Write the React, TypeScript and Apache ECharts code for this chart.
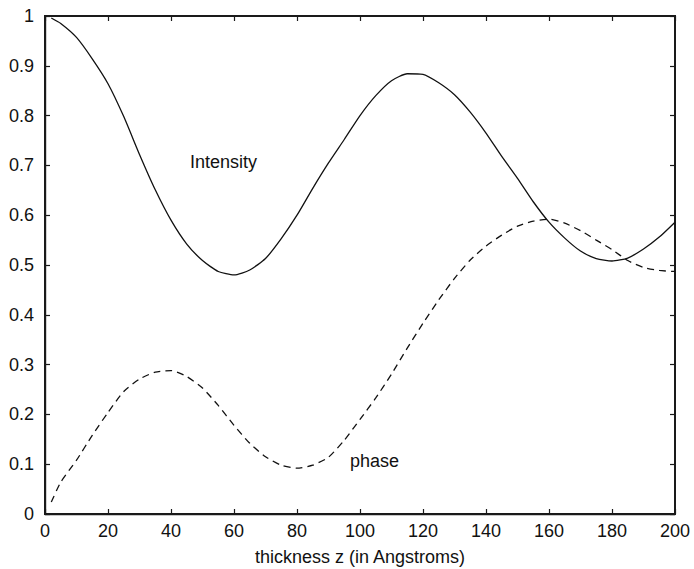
import React, { useEffect, useRef } from "react";
import * as echarts from "echarts";

const zValues = [2, 5, 10, 15, 20, 25, 30, 35, 40, 45, 50, 55, 60, 65, 70, 75, 80, 85, 90, 95, 100,
  105, 110, 115, 120, 125, 130, 135, 140, 145, 150, 155, 160, 165, 170, 175, 180, 185, 190, 195, 200];

const intensity = [0.996, 0.985, 0.957, 0.914, 0.864, 0.798, 0.722, 0.651, 0.590, 0.542, 0.509, 0.487,
  0.480, 0.490, 0.513, 0.553, 0.600, 0.654, 0.705, 0.752, 0.800, 0.840, 0.870, 0.884, 0.883, 0.866,
  0.842, 0.807, 0.765, 0.718, 0.674, 0.627, 0.586, 0.554, 0.528, 0.513, 0.508, 0.514, 0.532, 0.556, 0.586];

const phase = [0.024, 0.064, 0.108, 0.158, 0.204, 0.246, 0.271, 0.285, 0.288, 0.276, 0.253, 0.218,
  0.178, 0.142, 0.115, 0.098, 0.092, 0.098, 0.114, 0.148, 0.190, 0.233, 0.281, 0.333, 0.383, 0.430,
  0.473, 0.510, 0.538, 0.560, 0.578, 0.588, 0.592, 0.584, 0.569, 0.550, 0.531, 0.509, 0.495, 0.489, 0.487];

const xTicks = [0, 20, 40, 60, 80, 100, 120, 140, 160, 180, 200];
const yTicks = [0, 0.1, 0.2, 0.3, 0.4, 0.5, 0.6, 0.7, 0.8, 0.9, 1];

const xTitle = "thickness z (in Angstroms)";
const intensityLabel = "Intensity";
const phaseLabel = "phase";

const FONT = "'Liberation Sans', Arial, sans-serif";
const AX = "#1a1a1a";

const mkLine = (w: number) => ({ show: true, onZero: false, lineStyle: { color: AX, width: w } });
const mkTick = () => ({ show: true, inside: true, length: 5, lineStyle: { color: AX, width: 1.2 } });

export default function App() {
  const ref = useRef<HTMLDivElement>(null);
  useEffect(() => {
    if (!ref.current) return;
    const chart = echarts.init(ref.current, undefined, { renderer: "svg" });
    chart.setOption({
      animation: false,
      backgroundColor: "#fff",
      grid: {
        left: 45, right: 19, top: 16, bottom: 55, containLabel: false, outerBoundsMode: "none",
        show: true, borderColor: AX, borderWidth: 2, backgroundColor: "transparent",
      },
      xAxis: [
        {
          type: "value", min: 0, max: 200, interval: 20,
          axisLine: mkLine(1.4), axisTick: mkTick(), splitLine: { show: false },
          axisLabel: { color: "#111", fontSize: 18, fontFamily: FONT, margin: 8,
            formatter: (v: number) => (xTicks.includes(v) ? String(v) : "") },
          name: xTitle, nameLocation: "middle", nameGap: 34,
          nameTextStyle: { color: "#111", fontSize: 18, fontFamily: FONT },
        },
        {
          type: "value", min: 0, max: 200, interval: 20, position: "top",
          axisLine: mkLine(2), axisTick: mkTick(), axisLabel: { show: false }, splitLine: { show: false },
        },
      ],
      yAxis: [
        {
          type: "value", min: 0, max: 1, interval: 0.1,
          axisLine: mkLine(1.4), axisTick: mkTick(), splitLine: { show: false },
          axisLabel: { color: "#111", fontSize: 18, fontFamily: FONT, margin: 11,
            formatter: (v: number) => {
              const r = Math.round(v * 10) / 10;
              return yTicks.includes(r) ? String(r) : "";
            } },
        },
        {
          type: "value", min: 0, max: 1, interval: 0.1, position: "right",
          axisLine: mkLine(2), axisTick: mkTick(), axisLabel: { show: false }, splitLine: { show: false },
        },
      ],
      series: [
        {
          name: intensityLabel, type: "line", smooth: 0.2, symbol: "none",
          data: zValues.map((z, i) => [z, intensity[i]]),
          lineStyle: { color: "#111", width: 1.3 },
        },
        {
          name: phaseLabel, type: "line", smooth: 0.2, symbol: "none",
          data: zValues.map((z, i) => [z, phase[i]]),
          lineStyle: { color: "#111", width: 1.3, type: [7, 5] },
        },
        {
          name: "frame", type: "line", xAxisIndex: 1, yAxisIndex: 1, symbol: "none",
          data: [[0, 0], [200, 1]], lineStyle: { opacity: 0 }, silent: true,
        },
      ],
      graphic: [
        { type: "text", left: 190, top: 153, z: 10, style: { text: intensityLabel, fontSize: 18, fontFamily: FONT, fill: "#111" } },
        { type: "text", left: 350, top: 452, z: 10, style: { text: phaseLabel, fontSize: 18, fontFamily: FONT, fill: "#111" } },
      ],
    });
    return () => chart.dispose();
  }, []);
  return <div ref={ref} style={{ position: "absolute", left: 0, top: 0, width: 694, height: 569 }} />;
}
